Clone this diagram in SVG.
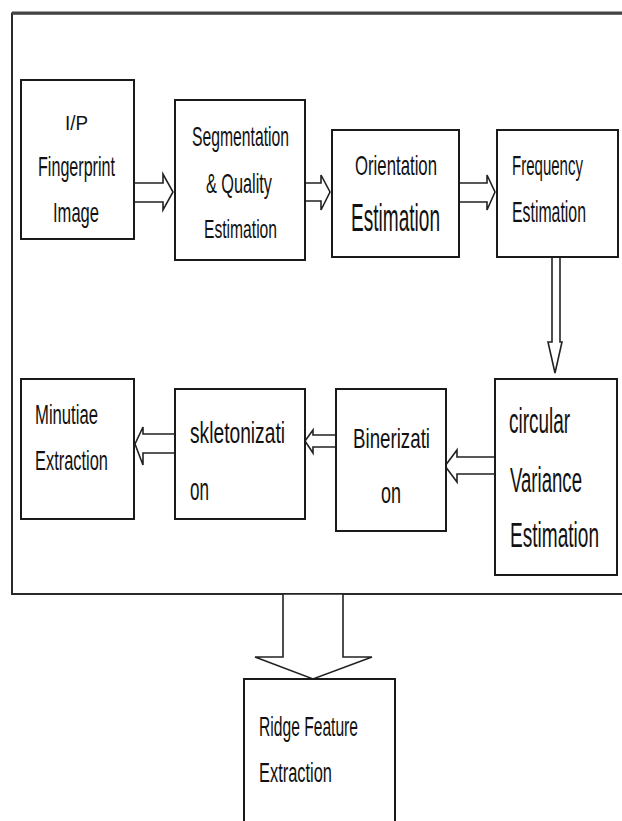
<svg xmlns="http://www.w3.org/2000/svg" width="622" height="821" viewBox="0 0 622 821">
<style>
.box{fill:#fff;stroke:#1a1a1a;stroke-width:2}
.arr{fill:#fff;stroke:#222;stroke-width:1.6;stroke-linejoin:miter}
.t{font-family:"Liberation Sans",Arial,sans-serif;fill:#111;font-size:16px}
.frame{fill:none;stroke:#2a2a2a;stroke-width:2}
</style>
<rect width="622" height="821" fill="#fff"/>
<path class="frame" d="M622,13.5 H12 V594 H622"/>
<line x1="12" y1="13" x2="622" y2="13" stroke="#444" stroke-width="3"/>
<g id="connectors">
<polygon class="arr" points="134,183 163,183 163,174 173,192 163,210 163,202 134,202"/>
<polygon class="arr" points="305,183 321,183 321,175 330,192 321,210 321,201 305,201"/>
<polygon class="arr" points="459,183 487,183 487,175 495,192 487,210 487,202 459,202"/>
<polygon class="arr" points="552,257 560,257 560,342 562,342 555,373 548,342 552,342"/>
<polygon class="arr" points="495,457 457,457 457,450 445,466 457,482 457,474 495,474"/>
<polygon class="arr" points="336,435 313,435 313,430 305,441 313,453 313,447 336,447"/>
<polygon class="arr" points="175,434 143,434 143,427 135,444 143,465 143,453 175,453"/>
<polygon class="arr" points="283,594 283,657 255,657 313,679 372,657 343,657 343,594"/>
</g>
<g id="n1">
<rect class="box" x="21" y="80" width="113" height="159"/>
<text class="t" transform="translate(65,130) scale(1,1.31)" textLength="23" lengthAdjust="spacingAndGlyphs">I/P</text>
<text class="t" transform="translate(38,176) scale(1,1.69)" textLength="77" lengthAdjust="spacingAndGlyphs">Fingerprint</text>
<text class="t" transform="translate(53,222) scale(1,1.69)" textLength="46" lengthAdjust="spacingAndGlyphs">Image</text>
</g>
<g id="n2">
<rect class="box" x="175" y="100" width="130" height="160"/>
<text class="t" transform="translate(192,146) scale(1,1.69)" textLength="97" lengthAdjust="spacingAndGlyphs">Segmentation</text>
<text class="t" transform="translate(206,193) scale(1,1.69)" textLength="66" lengthAdjust="spacingAndGlyphs">&amp; Quality</text>
<text class="t" transform="translate(204,238) scale(1,1.63)" textLength="73" lengthAdjust="spacingAndGlyphs">Estimation</text>
</g>
<g id="n3">
<rect class="box" x="332" y="130" width="127" height="127"/>
<text class="t" transform="translate(355,175) scale(1,1.69)" textLength="82" lengthAdjust="spacingAndGlyphs">Orientation</text>
<text class="t" style="font-size:19px" transform="translate(351,231) scale(1,2)" textLength="89" lengthAdjust="spacingAndGlyphs">Estimation</text>
</g>
<g id="n4">
<rect class="box" x="497" y="130" width="121" height="127"/>
<text class="t" transform="translate(512,175) scale(1,1.69)" textLength="71" lengthAdjust="spacingAndGlyphs">Frequency</text>
<text class="t" transform="translate(512,222) scale(1,1.81)" textLength="74" lengthAdjust="spacingAndGlyphs">Estimation</text>
</g>
<g id="n5">
<rect class="box" x="495" y="379" width="122" height="196"/>
<text class="t" style="font-size:18px" transform="translate(509,433) scale(1,2)" textLength="61" lengthAdjust="spacingAndGlyphs">circular</text>
<text class="t" style="font-size:18px" transform="translate(510,492) scale(1,1.95)" textLength="72" lengthAdjust="spacingAndGlyphs">Variance</text>
<text class="t" style="font-size:18px" transform="translate(510,547) scale(1,1.95)" textLength="89" lengthAdjust="spacingAndGlyphs">Estimation</text>
</g>
<g id="n6">
<rect class="box" x="336" y="389" width="110" height="142"/>
<text class="t" transform="translate(353,448) scale(1,1.69)" textLength="77" lengthAdjust="spacingAndGlyphs">Binerizati</text>
<text class="t" transform="translate(381,503) scale(1,1.81)" textLength="20" lengthAdjust="spacingAndGlyphs">on</text>
</g>
<g id="n7">
<rect class="box" x="175" y="389" width="130" height="130"/>
<text class="t" style="font-size:17px" transform="translate(190,443) scale(1,1.76)" textLength="95" lengthAdjust="spacingAndGlyphs">skletonizati</text>
<text class="t" style="font-size:17px" transform="translate(190,500) scale(1,1.88)" textLength="19" lengthAdjust="spacingAndGlyphs">on</text>
</g>
<g id="n8">
<rect class="box" x="21" y="379" width="113" height="140"/>
<text class="t" transform="translate(35,424) scale(1,1.75)" textLength="63" lengthAdjust="spacingAndGlyphs">Minutiae</text>
<text class="t" transform="translate(35,470) scale(1,1.69)" textLength="73" lengthAdjust="spacingAndGlyphs">Extraction</text>
</g>
<g id="n9">
<rect class="box" x="244" y="679" width="151" height="160"/>
<text class="t" transform="translate(259,736) scale(1,1.75)" textLength="99" lengthAdjust="spacingAndGlyphs">Ridge Feature</text>
<text class="t" transform="translate(259,782) scale(1,1.75)" textLength="73" lengthAdjust="spacingAndGlyphs">Extraction</text>
</g>
</svg>
